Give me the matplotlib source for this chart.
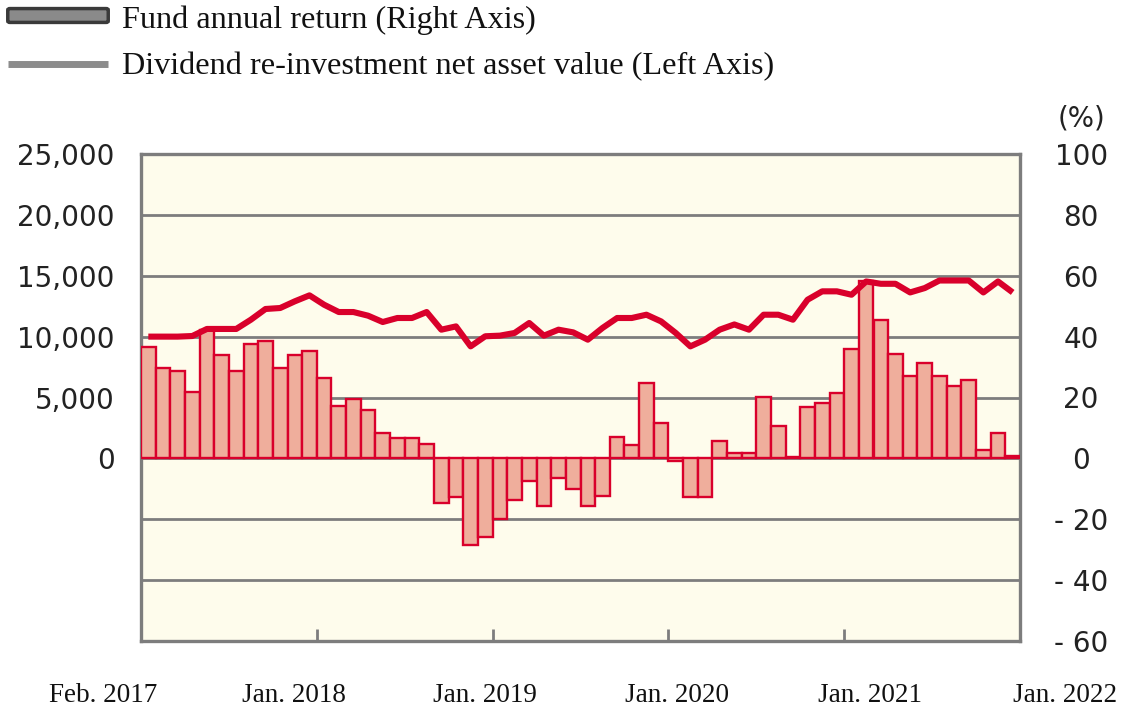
import matplotlib
matplotlib.use("Agg")
import matplotlib.pyplot as plt
from matplotlib.patches import FancyBboxPatch
from matplotlib.lines import Line2D
import numpy as np

# ---- data ----
# monthly, Feb 2017 .. Jan 2022 (60 months)
annual_return = [36.5, 29.8, 28.7, 21.8, 42.2, 34.1, 28.7, 37.6, 38.7, 29.8,
                 34.1, 35.2, 26.4, 17.3, 19.6, 16.0, 8.2, 6.6, 6.6, 4.6,
                 -14.7, -12.7, -28.3, -25.7, -20.0, -13.6, -7.3, -15.8, -6.6, -10.1,
                 -15.8, -12.5, 7.1, 4.4, 24.9, 11.5, -0.9, -12.7, -12.7, 5.7,
                 1.9, 1.8, 20.2, 10.5, 0.6, 16.8, 18.2, 21.5, 35.8, 58.4,
                 45.6, 34.4, 27.1, 31.3, 27.1, 23.7, 25.8, 2.7, 8.2, 0.8]
nav = [10000, 10000, 10000, 10050, 10630, 10630, 10630, 11390, 12270, 12350,
       12900, 13390, 12620, 12020, 12020, 11720, 11200, 11530, 11530, 12020,
       10570, 10840, 9200, 10030, 10080, 10300, 11120, 10080, 10570, 10350,
       9750, 10710, 11530, 11530, 11800, 11250, 10300, 9200, 9750, 10570,
       11000, 10570, 11800, 11800, 11390, 13030, 13720, 13720, 13440, 14530,
       14340, 14340, 13630, 13990, 14610, 14610, 14610, 13630, 14530, 13630]
x_labels = ["Feb. 2017", "Jan. 2018", "Jan. 2019", "Jan. 2020", "Jan. 2021", "Jan. 2022"]
left_ticks = [0, 5000, 10000, 15000, 20000, 25000]
left_ticklabels = ["0", "5,000", "10,000", "15,000", "20,000", "25,000"]
right_ticks = [100, 80, 60, 40, 20, 0, -20, -40, -60]
right_ticklabels = ["100", "80", "60", "40", "20", "0", "- 20", "- 40", "- 60"]
year_boundaries = [11.5, 23.5, 35.5, 47.5]
legend_labels = ["Fund annual return (Right Axis)",
                 "Dividend re-investment net asset value (Left Axis)"]

W, H = 1121, 711
fig = plt.figure(figsize=(W / 100, H / 100), dpi=100)
fig.patch.set_facecolor("white")

L, R, T, B = 141, 1020, 154, 641
ax = fig.add_axes([L / W, 1 - B / H, (R - L) / W, (B - T) / H])
ax.set_facecolor("#FEFCEC")
ax2 = ax.twinx()

RED = "#D9002B"
FILL = "#EFAE9C"
GRID = "#7d7d7d"
TXT = "#222222"
SANS = "DejaVu Sans"
SERIF = "Liberation Serif"

idx = np.arange(len(annual_return))
ax.bar(idx, annual_return, width=1.0, color=FILL, edgecolor=RED, linewidth=1.7, zorder=3)
ax.set_xlim(-0.5, len(annual_return) - 0.5)
ax.set_ylim(-60, 100)
ax.set_yticks(right_ticks)
ax.set_yticklabels(right_ticklabels, fontsize=20, family=SANS, color=TXT)
ax.yaxis.tick_right()
ax.tick_params(axis="y", which="both", left=False, labelleft=False,
               right=False, labelright=True, length=0, pad=44)
for t in ax.yaxis.get_major_ticks():
    t.label2.set_horizontalalignment("center")
ax.set_axisbelow(True)
for yv in [80, 60, 40, 20, 0, -20, -40]:
    ax.axhline(yv, color=GRID, linewidth=2.0, zorder=1)
ax.set_xticks(year_boundaries)
ax.set_xticklabels([])
ax.tick_params(axis="x", direction="in", length=9, width=2.0, color=GRID)
for s in ax.spines.values():
    s.set_color(GRID)
    s.set_linewidth(2.4)

ax2.plot(idx, nav, color=RED, linewidth=4.4, solid_joinstyle="round",
         solid_capstyle="butt", zorder=5)
ax2.set_ylim(-15000, 25000)
ax2.set_yticks(left_ticks)
ax2.set_yticklabels(left_ticklabels, fontsize=20, family=SANS, color=TXT)
ax2.yaxis.tick_left()
ax2.tick_params(axis="y", which="both", left=False, labelleft=True,
                right=False, labelright=False, length=0, pad=19)
for s in ax2.spines.values():
    s.set_visible(False)
ax2.patch.set_visible(False)

# (%) label
fig.text(1081 / W, 1 - 118 / H, "(%)", ha="center", va="center",
         fontsize=20, family=SANS, color=TXT)

# x labels
for cx, lab in zip([103, 294, 485, 677, 870, 1065], x_labels):
    fig.text(cx / W, 1 - 695 / H, lab, ha="center", va="center",
             fontsize=19.5, family=SERIF, color="#111111")

# legend
fig.patches.append(FancyBboxPatch((10 / W, 1 - 21 / H), 96 / W, 11 / H,
                                  boxstyle="round,pad=0.002", transform=fig.transFigure,
                                  facecolor="#8a8a8a", edgecolor="#3a3a3a", linewidth=2.5))
fig.lines.append(Line2D([8 / W, 108 / W], [1 - 64 / H, 1 - 64 / H], transform=fig.transFigure,
                        color="#8c8c8c", linewidth=5, solid_capstyle="butt"))
fig.text(122 / W, 1 - 20 / H, legend_labels[0], ha="left", va="center",
         fontsize=23.2, family=SERIF, color="#111111")
fig.text(122 / W, 1 - 67 / H, legend_labels[1], ha="left", va="center",
         fontsize=23.2, family=SERIF, color="#111111")

fig.savefig("out.png", dpi=100)
